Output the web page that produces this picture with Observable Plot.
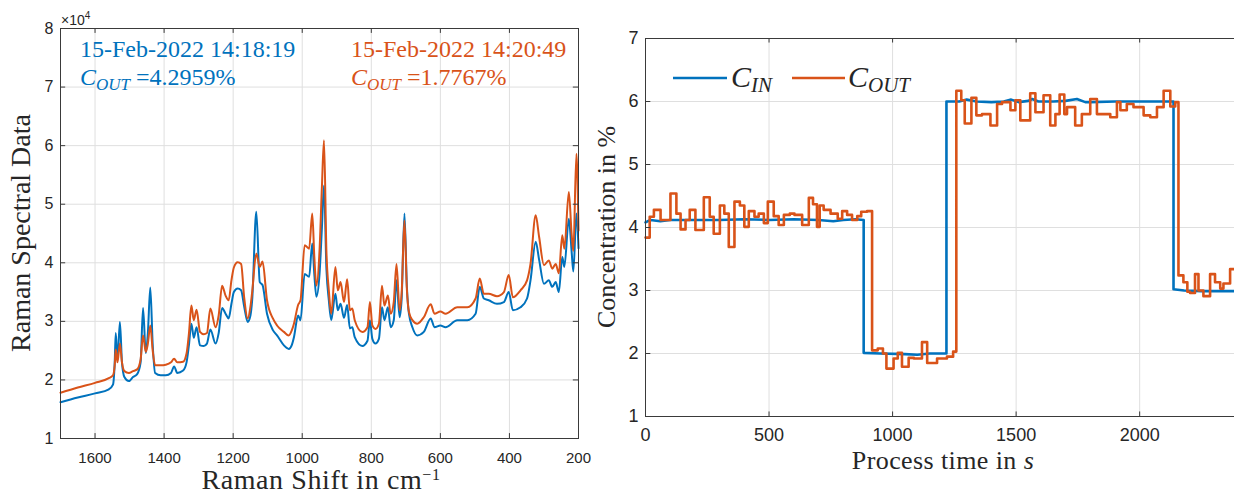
<!DOCTYPE html>
<html>
<head>
<meta charset="utf-8">
<script src="https://cdn.jsdelivr.net/npm/d3@7"></script>
<script src="https://cdn.jsdelivr.net/npm/@observablehq/plot@0.6"></script>
<style>
  html, body { margin: 0; padding: 0; background: #fff; }
  #wrap { position: relative; width: 1234px; height: 495px; overflow: hidden; background: #fff; }
  #left { position: absolute; left: 0; top: 0; width: 590px; height: 495px; }
  #right { position: absolute; left: 590px; top: 0; width: 648px; height: 495px; }
</style>
</head>
<body>
<div id="wrap"><div id="left"></div><div id="right"></div></div>
<script>
// ---------- Left panel: Raman spectra ----------
const ramanShift = [
  1700,1650,1600,1560,1548,1543,1540,1535,1528,1522,
  1515,1502,1490,1478,1468,1461,1453,1447,1440,1433,
  1426,1410,1395,1380,1371,1362,1345,1335,1328,1321,
  1314,1306,1296,1285,1276,1266,1251,1242,1232,1222,
  1213,1205,1198,1187,1177,1168,1158,1150,1145,1133,
  1123,1115,1102,1085,1073,1053,1039,1030,1024,1012,
  1005,993,980,971,965,959,950,943,937,930,
  923,916,904,897,889,879,870,862,855,848,
  826,811,804,797,788,778,769,762,752,744,
  735,727,718,712,704,697,691,681,667,648,
  628,617,600,585,551,522,498,486,474,460,
  436,416,402,390,368,349,339,324,314,300,
  286,276,266,257,247,241,228,220,215,206,
  200
];
// spectrum recorded 15-Feb-2022 14:18:19 (C_OUT = 4.2959 %)
const spectrumA = [
  16200,17000,17700,18400,19200,23000,28000,23300,29900,23000,
  20500,19800,20500,21000,23000,32300,24600,28000,35800,26000,
  21200,20800,20800,21200,22300,21200,21600,23000,26000,29600,
  27200,29000,25900,25800,26200,28600,26200,28000,32300,31300,
  30500,33000,35000,35600,35300,32500,29900,31000,33600,48700,
  36700,36200,31300,28500,27600,25900,25300,26000,27300,31000,
  30200,38100,37600,43300,38000,34200,38000,46000,53200,39000,
  33600,30200,34700,31900,33000,30600,32800,28800,29000,27300,
  25800,26700,30200,27000,26200,27000,32400,30200,32400,29000,
  30200,37000,30700,34000,48400,36000,31300,29000,27600,28200,
  30500,29000,29300,29000,30200,30200,31300,35900,33900,33600,
  33000,33300,35000,31900,32400,33900,37000,43600,40500,36400,
  37000,35900,36700,35000,41000,39300,47500,42000,38500,48400,
  42500
];
// spectrum recorded 15-Feb-2022 14:20:49 (C_OUT = 1.7767 %)
const spectrumB = [
  17800,18700,19500,20300,20800,22500,25200,23000,26200,23000,
  21500,21200,21500,21800,23500,27600,24800,26200,29300,25000,
  22500,22500,22600,23000,23600,23000,23100,24500,28000,32700,
  30200,32000,28200,27800,28000,32200,29000,31000,36100,34400,
  33600,37000,39200,40100,39800,34000,30500,32500,35000,41600,
  39300,40200,33600,30500,29300,28200,27600,28500,29600,32800,
  33600,43000,42400,48400,41000,36100,42000,53000,60900,42000,
  35300,31300,39300,35300,36700,33300,37200,31900,32200,30200,
  28200,29000,33300,29300,28700,29600,36100,32700,34400,31300,
  33300,39800,31900,35000,47200,35500,31600,30200,29600,30700,
  32900,31300,31700,31300,32400,32400,33900,37300,34700,34700,
  34300,35000,37900,34100,35300,37000,39800,48100,44400,39600,
  40400,39000,39800,38200,44700,42400,52100,45000,42000,58600,
  45500
];
const ramanTicks = [1600, 1400, 1200, 1000, 800, 600, 400, 200];
const intensityTicks = [10000, 20000, 30000, 40000, 50000, 60000, 70000, 80000];
const shiftDomain = [1700, 200];
const intensityDomain = [10000, 80000];
const stampA = "15-Feb-2022 14:18:19";
const stampB = "15-Feb-2022 14:20:49";
const coutA = "4.2959";
const coutB = "1.7767";

// ---------- Right panel: concentrations over time ----------
const cinTime = [
  0,20,60,100,200,300,400,500,600,700,
  760,800,850,883,883,950,1050,1100,1150,1218,
  1218,1270,1300,1340,1400,1450,1480,1510,1550,1565,
  1590,1650,1700,1746,1780,1800,1900,2000,2137,2137,
  2180,2250,2383
];
const cinValue = [
  4.08,4.12,4.10,4.12,4.12,4.12,4.13,4.12,4.13,4.12,
  4.10,4.12,4.13,4.12,2.01,2.00,1.99,1.98,2.00,2.00,
  6.00,6.00,6.03,6.00,5.99,6.00,6.03,5.99,6.01,6.04,
  6.00,6.00,6.01,6.04,5.99,5.99,6.00,6.00,6.00,3.02,
  3.00,2.99,2.99
];
const coutTime = [
  0,17,34,61,101,125,142,162,179,202,
  236,260,276,301,319,337,360,382,400,418,
  441,458,479,495,519,539,560,584,603,634,
  661,678,694,705,721,749,778,796,816,836,
  857,873,897,917,940,961,975,1004,1021,1038,
  1065,1086,1119,1140,1180,1220,1245,1258,1278,1292,
  1319,1339,1362,1396,1423,1443,1477,1497,1517,1557,
  1578,1611,1638,1659,1676,1695,1706,1739,1766,1800,
  1827,1881,1908,1922,1948,1975,2016,2043,2070,2097,
  2124,2144,2157,2177,2193,2204,2224,2238,2258,2285,
  2305,2326,2339,2366,2383
];
const coutValue = [
  3.84,4.17,4.28,4.12,4.54,4.22,3.97,4.12,4.28,3.96,
  4.48,4.17,3.90,4.35,4.22,3.69,4.41,4.35,4.01,4.26,
  4.17,4.22,4.07,4.41,4.18,4.04,4.20,4.22,4.20,4.04,
  4.47,4.37,4.01,4.35,4.28,4.22,4.14,4.26,4.20,4.12,
  4.18,4.25,4.26,2.05,2.08,2.00,1.76,1.92,2.01,1.79,
  1.93,1.92,2.18,1.85,1.92,1.95,2.03,6.17,6.02,5.65,
  6.06,5.78,5.80,5.62,5.96,5.99,5.86,6.02,5.70,6.13,
  5.83,6.10,5.62,5.80,6.11,5.80,5.91,5.62,5.80,6.04,
  5.80,5.75,5.99,5.86,5.96,5.91,5.78,5.75,5.91,6.17,
  5.92,5.99,3.24,3.13,2.98,2.96,3.26,3.00,2.91,3.26,
  3.13,3.03,3.11,3.34,3.34
];
const timeTicks = [0, 500, 1000, 1500, 2000];
const concTicks = [1, 2, 3, 4, 5, 6, 7];
const timeDomain = [0, 2400];
const concDomain = [1, 7];

// ---------- styling ----------
const BLUE = "#0072BD", ORANGE = "#D95319";
const GRID = "#dfdfdf", AXIS = "#3a3a3a", TEXT = "#262626";
const SANS = "'Liberation Sans', Arial, Helvetica, sans-serif";
const SERIF = "'Liberation Serif', 'Times New Roman', serif";

function addText(svg, o, parts) {
  const t = d3.select(svg).append("text")
    .attr("x", o.x).attr("y", o.y)
    .attr("fill", o.color || TEXT)
    .attr("font-family", o.family || SERIF)
    .attr("font-size", o.size)
    .attr("text-anchor", o.anchor || "start");
  if (o.rotate) t.attr("transform", `rotate(${o.rotate} ${o.x} ${o.y})`);
  if (o.spacing) t.attr("letter-spacing", o.spacing);
  let shift = 0;
  for (const p of parts) {
    const ts = t.append("tspan").text(p.text);
    if (p.italic) ts.attr("font-style", "italic");
    if (p.size) ts.attr("font-size", p.size);
    const target = p.shift || 0;
    if (target !== shift) { ts.attr("dy", target - shift); shift = target; }
  }
  return t;
}

// ---------- left chart ----------
const rowsA = ramanShift.map((w, i) => ({w, v: spectrumA[i]}));
const rowsB = ramanShift.map((w, i) => ({w, v: spectrumB[i]}));
const xTickLen = Math.abs(shiftDomain[1] - shiftDomain[0]) * 0.01;
const yTickLen = (intensityDomain[1] - intensityDomain[0]) * 0.012;

const left = Plot.plot({
  width: 590, height: 495,
  marginLeft: 60, marginRight: 12, marginTop: 28, marginBottom: 57,
  style: {background: "transparent", fontFamily: SANS, color: TEXT, overflow: "visible"},
  x: {domain: shiftDomain, label: null},
  y: {domain: intensityDomain, label: null},
  marks: [
    Plot.gridX(ramanTicks, {stroke: GRID, strokeOpacity: 1}),
    Plot.gridY(intensityTicks, {stroke: GRID, strokeOpacity: 1}),
    Plot.line(rowsA, {x: "w", y: "v", curve: "monotone-x", stroke: BLUE, strokeWidth: 2}),
    Plot.line(rowsB, {x: "w", y: "v", curve: "monotone-x", stroke: ORANGE, strokeWidth: 2}),
    Plot.axisX(ramanTicks, {tickSize: 0, tickPadding: 14, fontSize: 15, tickFormat: d => `${d}`, label: null}),
    Plot.axisY(intensityTicks, {tickSize: 0, tickPadding: 7, fontSize: 16, tickFormat: d => `${d / 1e4}`, label: null}),
    Plot.ruleX(ramanTicks, {x: d => d, y1: intensityDomain[0], y2: intensityDomain[0] + yTickLen, stroke: AXIS}),
    Plot.ruleX(ramanTicks, {x: d => d, y1: intensityDomain[1], y2: intensityDomain[1] - yTickLen, stroke: AXIS}),
    Plot.ruleY(intensityTicks, {y: d => d, x1: shiftDomain[0], x2: shiftDomain[0] - xTickLen, stroke: AXIS}),
    Plot.ruleY(intensityTicks, {y: d => d, x1: shiftDomain[1], x2: shiftDomain[1] + xTickLen, stroke: AXIS}),
    Plot.frame({stroke: AXIS, strokeWidth: 1})
  ]
});
document.getElementById("left").appendChild(left);

addText(left, {x: 61, y: 25, size: 14, family: SANS, color: TEXT}, [
  {text: "×10"}, {text: "4", size: 10, shift: -6}
]);
addText(left, {x: 30, y: 233, size: 28, rotate: -90, anchor: "middle"}, [{text: "Raman Spectral Data"}]);
addText(left, {x: 321, y: 489, size: 28, anchor: "middle", spacing: 0.6}, [
  {text: "Raman Shift in cm"}, {text: "−1", size: 16, shift: -9}
]);
addText(left, {x: 80, y: 57, size: 24, color: BLUE}, [{text: stampA}]);
addText(left, {x: 80, y: 85, size: 24, color: BLUE}, [
  {text: "C", italic: true}, {text: "OUT", italic: true, size: 17, shift: 5}, {text: " =" + coutA + "%", shift: 0}
]);
addText(left, {x: 351, y: 57, size: 24, color: ORANGE}, [{text: stampB}]);
addText(left, {x: 351, y: 85, size: 24, color: ORANGE}, [
  {text: "C", italic: true}, {text: "OUT", italic: true, size: 17, shift: 5}, {text: " =" + coutB + "%", shift: 0}
]);

// ---------- right chart ----------
const cinRows = cinTime.map((t, i) => ({t, v: cinValue[i]}));
const coutRows = coutTime.map((t, i) => ({t, v: coutValue[i]}));
const tTickLen = (timeDomain[1] - timeDomain[0]) * 0.009;
const cTickLen = (concDomain[1] - concDomain[0]) * 0.012;

const right = Plot.plot({
  width: 648, height: 495,
  marginLeft: 55, marginRight: 0, marginTop: 38, marginBottom: 79,
  style: {background: "transparent", fontFamily: SANS, color: TEXT, overflow: "visible"},
  x: {domain: timeDomain, label: null},
  y: {domain: concDomain, label: null},
  marks: [
    Plot.gridX(timeTicks, {stroke: GRID, strokeOpacity: 1}),
    Plot.gridY(concTicks, {stroke: GRID, strokeOpacity: 1}),
    Plot.line(cinRows, {x: "t", y: "v", stroke: BLUE, strokeWidth: 2.6}),
    Plot.line(coutRows, {x: "t", y: "v", curve: "step-after", stroke: ORANGE, strokeWidth: 2.6}),
    Plot.axisX(timeTicks, {tickSize: 0, tickPadding: 12, fontSize: 18, tickFormat: d => `${d}`, label: null}),
    Plot.axisY(concTicks, {tickSize: 0, tickPadding: 7, fontSize: 18, tickFormat: d => `${d}`, label: null}),
    Plot.ruleX(timeTicks, {x: d => d, y1: concDomain[0], y2: concDomain[0] + cTickLen, stroke: AXIS}),
    Plot.ruleX(timeTicks, {x: d => d, y1: concDomain[1], y2: concDomain[1] - cTickLen, stroke: AXIS}),
    Plot.ruleY(concTicks, {y: d => d, x1: timeDomain[0], x2: timeDomain[0] + tTickLen, stroke: AXIS}),
    Plot.frame({stroke: AXIS, strokeWidth: 1})
  ]
});
document.getElementById("right").appendChild(right);

addText(right, {x: 25, y: 227, size: 26, rotate: -90, anchor: "middle"}, [{text: "Concentration in %"}]);
addText(right, {x: 353, y: 469, size: 26, anchor: "middle", spacing: 0.4}, [
  {text: "Process time in "}, {text: "s", italic: true}
]);

// legend
const lg = d3.select(right).append("g");
lg.append("line").attr("x1", 83).attr("x2", 137).attr("y1", 78).attr("y2", 78)
  .attr("stroke", BLUE).attr("stroke-width", 2.6);
addText(right, {x: 141, y: 87, size: 30}, [
  {text: "C", italic: true}, {text: "IN", italic: true, size: 21, shift: 5}
]);
lg.append("line").attr("x1", 202).attr("x2", 255).attr("y1", 78).attr("y2", 78)
  .attr("stroke", ORANGE).attr("stroke-width", 2.6);
addText(right, {x: 258, y: 87, size: 30}, [
  {text: "C", italic: true}, {text: "OUT", italic: true, size: 21, shift: 5}
]);
</script>
</body>
</html>
